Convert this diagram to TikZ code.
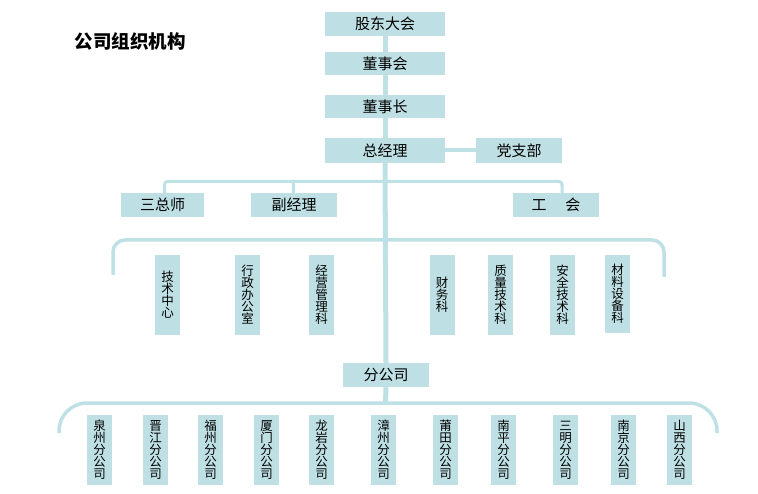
\documentclass[tikz,border=0pt]{standalone}
\usepackage{fontspec}
\setmainfont{Noto Sans CJK SC}
\usetikzlibrary{backgrounds}
\definecolor{boxc}{RGB}{190,224,228}
\definecolor{linec}{RGB}{190,225,230}
\begin{document}
\begin{tikzpicture}[x=1pt,y=-1pt,
  hbox/.style={fill=boxc,inner sep=0pt,font=\fontsize{15}{15}\selectfont},
  vbox/.style={fill=boxc,inner sep=0pt,align=center,minimum width=25pt,font=\fontsize{12.5}{12}\selectfont},
  trunk/.style={draw=linec,line width=5pt},
  conn/.style={draw=linec,line width=3.5pt}]
\useasboundingbox (0,0) rectangle (758,494);
\node[font=\fontsize{18.5}{18.5}\selectfont\bfseries] (title) at (130,41) {公司组织机构};
% top chain
\node[hbox,minimum width=120pt,minimum height=24pt] (gd) at (385,24) {股东大会};
\node[hbox,minimum width=120pt,minimum height=23pt] (dsh) at (385,63.5) {董事会};
\node[hbox,minimum width=120pt,minimum height=23pt] (dsz) at (385,106.5) {董事长};
\node[hbox,minimum width=120pt,minimum height=25pt] (zjl) at (385,150.5) {总经理};
\node[hbox,minimum width=86pt,minimum height=25pt] (dzb) at (519,150.5) {党支部};
% second level
\node[hbox,minimum width=83pt,minimum height=24pt] (szs) at (162.5,205) {三总师};
\node[hbox,minimum width=86pt,minimum height=24pt] (fjl) at (294,205) {副经理};
\node[hbox,minimum width=86pt,minimum height=24pt] (gh) at (556,205) {工\hspace{19pt}会};
% departments
\node[vbox,minimum height=80pt] (d1) at (167.5,295) {技\\术\\中\\心};
\node[vbox,minimum height=80pt] (d2) at (247.5,295) {行\\政\\办\\公\\室};
\node[vbox,minimum height=80pt] (d3) at (321.5,295) {经\\营\\管\\理\\科};
\node[vbox,minimum height=80pt] (d4) at (442,295) {财\\务\\科};
\node[vbox,minimum height=80pt] (d5) at (500.5,295) {质\\量\\技\\术\\科};
\node[vbox,minimum height=80pt] (d6) at (562.5,295) {安\\全\\技\\术\\科};
\node[vbox,minimum height=78pt] (d7) at (617.5,294) {材\\料\\设\\备\\科};
% branch
\node[hbox,minimum width=86pt,minimum height=24pt] (fgs) at (386,375) {分公司};
\node[vbox,minimum height=70pt] (b1) at (99.5,450) {泉\\州\\分\\公\\司};
\node[vbox,minimum height=70pt] (b2) at (155.5,450) {晋\\江\\分\\公\\司};
\node[vbox,minimum height=70pt] (b3) at (210.5,450) {福\\州\\分\\公\\司};
\node[vbox,minimum height=70pt] (b4) at (266.5,450) {厦\\门\\分\\公\\司};
\node[vbox,minimum height=70pt] (b5) at (321.5,450) {龙\\岩\\分\\公\\司};
\node[vbox,minimum height=70pt] (b6) at (383.5,450) {漳\\州\\分\\公\\司};
\node[vbox,minimum height=70pt] (b7) at (445.5,450) {莆\\田\\分\\公\\司};
\node[vbox,minimum height=70pt] (b8) at (503.5,450) {南\\平\\分\\公\\司};
\node[vbox,minimum height=70pt] (b9) at (565.5,450) {三\\明\\分\\公\\司};
\node[vbox,minimum height=70pt] (b10) at (623.5,450) {南\\京\\分\\公\\司};
\node[vbox,minimum height=70pt] (b11) at (679.5,450) {山\\西\\分\\公\\司};
% bracket coordinates
\coordinate (hb) at (385,181.5);
\coordinate (mb) at (385,240);
\coordinate (ml) at (113,275);
\coordinate (mr) at (664,277);
\coordinate (bb) at (385.5,403);
\coordinate (bl) at (59,433);
\coordinate (br) at (717,433);
\begin{scope}[on background layer]
  \path[trunk] (gd.south) -- (dsh.north);
  \path[trunk] (dsh.south) -- (dsz.north);
  \path[trunk] (dsz.south) -- (zjl.north);
  \path[trunk] (zjl.south) -- (fgs.north);
  \path[trunk] (fgs.south) -- (bb);
  \path[conn,line width=4pt] (zjl.east) -- (dzb.west);
  \path[conn,line width=3pt,rounded corners=3pt] ([xshift=2pt]szs.north) |- (hb) -| ([xshift=6pt]gh.north);
  \path[conn,line width=3pt] ([xshift=-1pt]fjl.north) -- ([xshift=-1pt]fjl.north |- hb);
  \path[conn,rounded corners=12pt] (ml) |- (mb) -| (mr);
  \path[conn,rounded corners=28pt] (bl) |- (bb) -| (br);
\end{scope}
\end{tikzpicture}
\end{document}
